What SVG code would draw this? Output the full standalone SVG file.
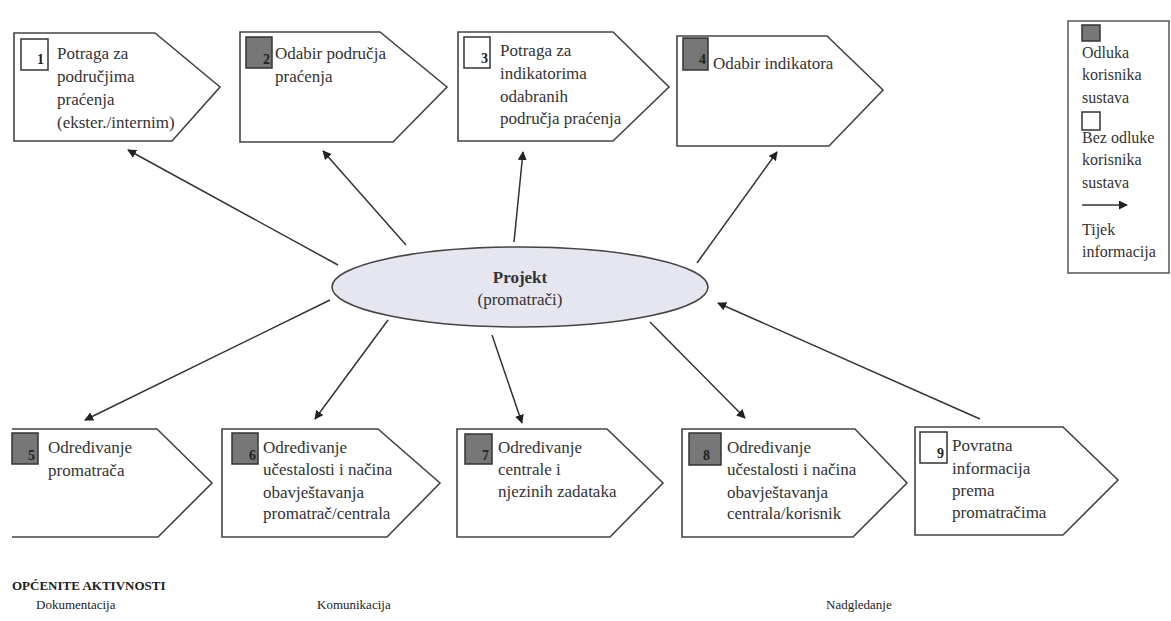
<svg xmlns="http://www.w3.org/2000/svg" width="1171" height="621" viewBox="0 0 1171 621">
<defs>
<marker id="ah" viewBox="0 0 10 10" refX="9" refY="5" markerWidth="9" markerHeight="9" markerUnits="userSpaceOnUse" orient="auto">
<path d="M0,0 L10,5 L0,10 z" fill="#222"/>
</marker>
<style>
.box{fill:#fff;stroke:#444;stroke-width:1.6}
.open{fill:none;stroke:#444;stroke-width:1.6}
.sq{stroke:#333;stroke-width:1.5}
.dec{fill:#777}
.nod{fill:#fff}
.t{font-family:"Liberation Serif","DejaVu Serif","Times New Roman",serif;font-size:17px;fill:#333}
.n{font-family:"Liberation Serif","DejaVu Serif","Times New Roman",serif;font-size:14px;font-weight:bold;fill:#222;text-anchor:end}
.lg{font-family:"Liberation Serif","DejaVu Serif","Times New Roman",serif;font-size:16px;fill:#333}
.c{stroke:#333;stroke-width:1.5;fill:none;marker-end:url(#ah)}
.b{font-family:"Liberation Serif","DejaVu Serif","Times New Roman",serif;font-size:13px;fill:#222}
</style>
</defs>
<rect width="1171" height="621" fill="#fff"/>

<g id="connectors">
<line class="c" x1="338" y1="265" x2="128" y2="150"/>
<line class="c" x1="406" y1="245" x2="323" y2="151"/>
<line class="c" x1="514" y1="242" x2="523" y2="152"/>
<line class="c" x1="697" y1="263" x2="777" y2="152"/>
<line class="c" x1="330" y1="300" x2="85" y2="420"/>
<line class="c" x1="388" y1="320" x2="315" y2="419"/>
<line class="c" x1="492" y1="335" x2="522" y2="423"/>
<line class="c" x1="650" y1="322" x2="745" y2="418"/>
<line class="c" x1="980" y1="419" x2="718" y2="303"/>
</g>

<g id="node-1">
<path class="box" d="M14,33 L155,33 L220,87 L172,141 L14,141 Z"/>
<rect class="sq nod" x="21" y="39" width="27" height="31"/>
<text class="n" x="44" y="64">1</text>
<text class="t" x="57" y="59">Potraga za</text>
<text class="t" x="57" y="82">područjima</text>
<text class="t" x="57" y="105">praćenja</text>
<text class="t" x="57" y="128">(ekster./internim)</text>
</g>

<g id="node-2">
<path class="box" d="M240,32 L380,32 L447,87 L393,142 L240,142 Z"/>
<rect class="sq dec" x="246" y="37" width="26" height="31"/>
<text class="n" x="270" y="64">2</text>
<text class="t" x="275" y="59">Odabir područja</text>
<text class="t" x="275" y="82">praćenja</text>
</g>

<g id="node-3">
<path class="box" d="M458,32 L613,32 L669,87 L613,141 L458,141 Z"/>
<rect class="sq nod" x="464" y="37" width="26" height="31"/>
<text class="n" x="488" y="63">3</text>
<text class="t" x="500" y="56">Potraga za</text>
<text class="t" x="500" y="79">indikatorima</text>
<text class="t" x="500" y="102">odabranih</text>
<text class="t" x="500" y="124">područja praćenja</text>
</g>

<g id="node-4">
<path class="box" d="M677,36 L827,36 L883,90 L829,146 L677,146 Z"/>
<rect class="sq dec" x="683" y="38" width="25" height="32"/>
<text class="n" x="706" y="64">4</text>
<text class="t" x="713" y="69">Odabir indikatora</text>
</g>

<g id="node-ellipse">
<ellipse cx="520" cy="287" rx="188" ry="40" fill="#e6e6f0" stroke="#444" stroke-width="1.6"/>
<text class="t" x="520" y="283" text-anchor="middle" font-weight="bold" fill="#222">Projekt</text>
<text class="t" x="520" y="305" text-anchor="middle">(promatrači)</text>
</g>

<g id="node-5">
<path class="open" d="M12,429 L157,429 L212,483 L158,537 L12,537"/>
<rect class="sq dec" x="12" y="433" width="26" height="31"/>
<text class="n" x="35" y="460">5</text>
<text class="t" x="48" y="453">Određivanje</text>
<text class="t" x="48" y="476">promatrača</text>
</g>

<g id="node-6">
<path class="box" d="M222,429 L378,429 L440,483 L387,537 L222,537 Z"/>
<rect class="sq dec" x="232" y="433" width="26" height="31"/>
<text class="n" x="256" y="460">6</text>
<text class="t" x="263" y="453">Određivanje</text>
<text class="t" x="263" y="475">učestalosti i načina</text>
<text class="t" x="263" y="498">obavještavanja</text>
<text class="t" x="263" y="519">promatrač/centrala</text>
</g>

<g id="node-7">
<path class="box" d="M457,429 L607,429 L663,483 L610,537 L457,537 Z"/>
<rect class="sq dec" x="465" y="434" width="27" height="30"/>
<text class="n" x="489" y="460">7</text>
<text class="t" x="498" y="453">Određivanje</text>
<text class="t" x="498" y="475">centrale i</text>
<text class="t" x="498" y="497">njezinih zadataka</text>
</g>

<g id="node-8">
<path class="box" d="M682,429 L855,429 L907,483 L853,537 L682,537 Z"/>
<rect class="sq dec" x="689" y="433" width="32" height="32"/>
<text class="n" x="710" y="460">8</text>
<text class="t" x="727" y="453">Određivanje</text>
<text class="t" x="727" y="475">učestalosti i načina</text>
<text class="t" x="727" y="498">obavještavanja</text>
<text class="t" x="727" y="519">centrala/korisnik</text>
</g>

<g id="node-9">
<path class="box" d="M915,427 L1063,427 L1118,480 L1063,535 L915,535 Z"/>
<rect class="sq nod" x="920" y="432" width="27" height="31"/>
<text class="n" x="944" y="458">9</text>
<text class="t" x="952" y="451">Povratna</text>
<text class="t" x="952" y="474">informacija</text>
<text class="t" x="952" y="496">prema</text>
<text class="t" x="952" y="518">promatračima</text>
</g>

<g id="legend">
<rect x="1068" y="21" width="101" height="252" fill="#fff" stroke="#555" stroke-width="1.5"/>
<rect class="sq dec" x="1082" y="25" width="18" height="16"/>
<text class="lg" x="1082" y="58">Odluka</text>
<text class="lg" x="1082" y="80">korisnika</text>
<text class="lg" x="1082" y="103">sustava</text>
<rect class="sq nod" x="1082" y="112" width="18" height="18"/>
<text class="lg" x="1082" y="143">Bez odluke</text>
<text class="lg" x="1082" y="165">korisnika</text>
<text class="lg" x="1082" y="188">sustava</text>
<line class="c" x1="1082" y1="205" x2="1127" y2="205"/>
<text class="lg" x="1082" y="235">Tijek</text>
<text class="lg" x="1082" y="257">informacija</text>
</g>

<g id="general">
<text class="b" x="12" y="590" font-weight="bold">OPĆENITE AKTIVNOSTI</text>
<text class="b" x="36" y="609">Dokumentacija</text>
<text class="b" x="317" y="609">Komunikacija</text>
<text class="b" x="826" y="609">Nadgledanje</text>
</g>
</svg>
